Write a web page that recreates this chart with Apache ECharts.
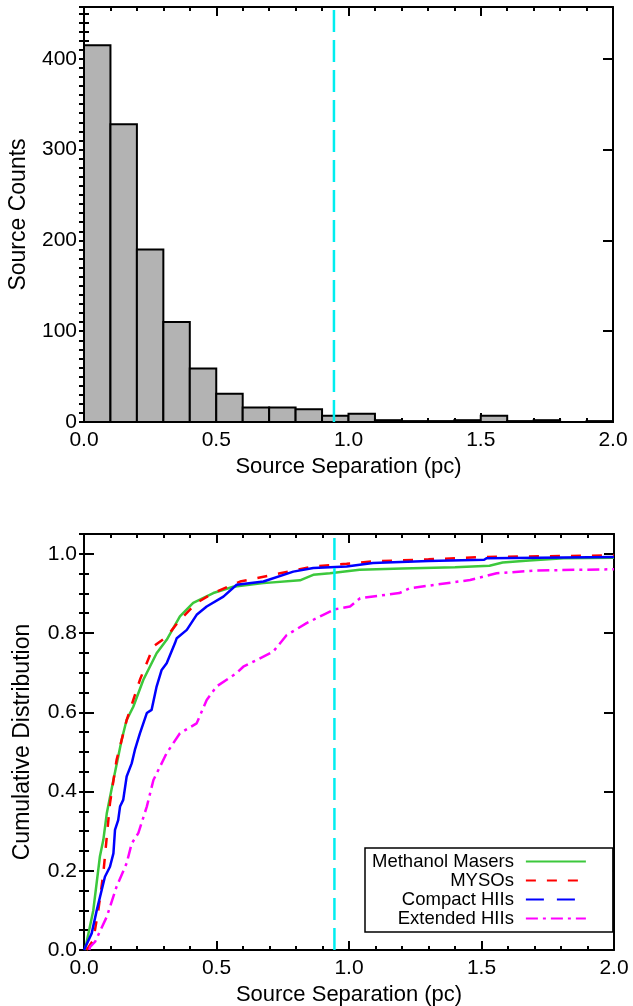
<!DOCTYPE html>
<html><head><meta charset="utf-8">
<script src="https://cdn.jsdelivr.net/npm/echarts@6/dist/echarts.min.js"></script>
<style>html,body{margin:0;padding:0;background:#fff}#c{width:633px;height:1006px}</style>
</head><body><div id="c"></div>
<script>
// ---- data ----
const binStarts = [0.0,0.1,0.2,0.3,0.4,0.5,0.6,0.7,0.8,0.9,1.0,1.1,1.2,1.3,1.4,1.5,1.6,1.7,1.8,1.9];
const binEnds   = [0.1,0.2,0.3,0.4,0.5,0.6,0.7,0.8,0.9,1.0,1.1,1.2,1.3,1.4,1.5,1.6,1.7,1.8,1.9,2.0];
const binCounts = [415,328,190,110,59,31,16,16,14,7,9,2,1,1,2,7,1,2,0,1];
const cutoffSep = 0.945;
const xTicks = [0.0, 0.5, 1.0, 1.5, 2.0];
const countTicks = [0, 100, 200, 300, 400];
const cdfTicks = [0.0, 0.2, 0.4, 0.6, 0.8, 1.0];
const countMax = 457;
const cdfMax = 1.05;

const methanolMasers = [[0.004,0],[0.01,0.02],[0.035,0.10],[0.06,0.236],[0.073,0.278],[0.086,0.345],[0.111,0.429],[0.142,0.530],[0.161,0.581],[0.186,0.614],[0.224,0.682],[0.274,0.749],[0.312,0.783],[0.362,0.842],[0.412,0.876],[0.488,0.901],[0.563,0.917],[0.677,0.926],[0.815,0.933],[0.865,0.947],[0.928,0.951],[1.04,0.960],[1.2,0.963],[1.40,0.966],[1.53,0.970],[1.58,0.978],[1.68,0.983],[1.81,0.989],[2.0,0.990]];
const mysos = [[0.01,0],[0.035,0.025],[0.054,0.10],[0.073,0.194],[0.092,0.328],[0.098,0.37],[0.123,0.48],[0.161,0.58],[0.186,0.631],[0.211,0.682],[0.262,0.766],[0.312,0.791],[0.362,0.833],[0.425,0.876],[0.488,0.901],[0.589,0.930],[0.74,0.951],[0.865,0.968],[0.991,0.975],[1.09,0.981],[1.3,0.986],[1.51,0.992],[1.75,0.994],[2.0,0.996]];
const compactHIIs = [[0.0,0],[0.004,0.005],[0.029,0.042],[0.048,0.10],[0.079,0.185],[0.098,0.21],[0.111,0.244],[0.117,0.303],[0.129,0.328],[0.136,0.362],[0.148,0.379],[0.161,0.438],[0.18,0.471],[0.192,0.505],[0.211,0.547],[0.237,0.598],[0.255,0.606],[0.274,0.665],[0.293,0.707],[0.312,0.724],[0.343,0.774],[0.35,0.787],[0.388,0.808],[0.425,0.846],[0.463,0.867],[0.526,0.892],[0.576,0.922],[0.677,0.930],[0.79,0.955],[0.865,0.964],[0.991,0.968],[1.09,0.977],[1.3,0.982],[1.51,0.985],[1.52,0.989],[2.0,0.992]];
const extendedHIIs = [[0.02,0],[0.023,0.008],[0.042,0.021],[0.086,0.084],[0.123,0.16],[0.161,0.219],[0.18,0.269],[0.205,0.295],[0.237,0.362],[0.262,0.429],[0.312,0.497],[0.362,0.547],[0.425,0.572],[0.463,0.631],[0.5,0.665],[0.576,0.699],[0.601,0.715],[0.714,0.753],[0.765,0.795],[0.84,0.825],[0.903,0.846],[0.947,0.860],[1.004,0.867],[1.042,0.888],[1.19,0.901],[1.23,0.913],[1.457,0.934],[1.557,0.951],[1.708,0.958],[2.0,0.961]];

// ---- styling ----
const FONT = '"Liberation Sans", Arial, Helvetica, sans-serif';
const BLACK = '#000';
const CYAN = '#00eef0';

function inList(list, v) { return list.some(t => Math.abs(t - v) < 1e-6); }

function xAxisDef(grid, pos, labels) {
  return {
    type: 'value', gridIndex: grid, position: pos, min: 0, max: 2, interval: 0.5,
    axisLine: { show: true, onZero: false, lineStyle: { color: BLACK, width: 2 } },
    axisTick: { show: true, inside: true, length: 9, lineStyle: { color: BLACK, width: 2 } },
    minorTick: { show: true, splitNumber: 5, length: 4, lineStyle: { color: BLACK, width: 2 } },
    splitLine: { show: false }, minorSplitLine: { show: false },
    axisLabel: { show: labels, margin: 8, color: BLACK, fontFamily: FONT, fontSize: 21,
      formatter: v => inList(xTicks, v) ? v.toFixed(1) : '' },
    name: labels ? 'Source Separation (pc)' : '', nameLocation: 'middle', nameGap: 34,
    nameTextStyle: { color: BLACK, fontFamily: FONT, fontSize: 22 }
  };
}
function yMainDef(grid, pos, max, interval, ticks, fmt, name, nameGap) {
  const labels = pos === 'left';
  return {
    type: 'value', gridIndex: grid, position: pos, min: 0, max: max, interval: interval,
    axisLine: { show: true, onZero: false, lineStyle: { color: BLACK, width: 2 } },
    axisTick: { show: true, inside: true, length: 10, lineStyle: { color: BLACK, width: 2 } },
    splitLine: { show: false },
    axisLabel: { show: labels, margin: 7, color: BLACK, fontFamily: FONT, fontSize: 21,
      formatter: v => inList(ticks, v) ? fmt(v) : '' },
    name: labels ? name : '', nameLocation: 'middle', nameGap: nameGap,
    nameTextStyle: { color: BLACK, fontFamily: FONT, fontSize: 23 }
  };
}
function yMinorDef(grid, pos, max, interval) {
  return {
    type: 'value', gridIndex: grid, position: pos, min: 0, max: max, interval: interval,
    axisLine: { show: false }, splitLine: { show: false }, axisLabel: { show: false },
    axisTick: { show: true, inside: true, length: 5, lineStyle: { color: BLACK, width: 2 } }
  };
}

const histData = binStarts.map((s, i) => [s, binEnds[i], binCounts[i]]);

const chart = echarts.init(document.getElementById('c'), null, { renderer: 'canvas' });
chart.setOption({
  animation: false,
  backgroundColor: '#fff',
  grid: [
    { left: 84, top: 7, width: 529, height: 415, containLabel: false, outerBoundsMode: 'none' },
    { left: 84, top: 534, width: 530, height: 416, containLabel: false, outerBoundsMode: 'none' }
  ],
  xAxis: [
    xAxisDef(0, 'bottom', true), xAxisDef(0, 'top', false),
    xAxisDef(1, 'bottom', true), xAxisDef(1, 'top', false)
  ],
  yAxis: [
    yMainDef(0, 'left', countMax, 100, countTicks, v => String(v), 'Source Counts', 54),
    yMinorDef(0, 'left', countMax, 10),
    yMainDef(0, 'right', countMax, 100, countTicks, v => String(v), '', 0),
    yMinorDef(0, 'right', countMax, 10),
    yMainDef(1, 'left', cdfMax, 0.2, cdfTicks, v => v.toFixed(1), 'Cumulative Distribution', 50),
    yMinorDef(1, 'left', cdfMax, 0.05),
    yMainDef(1, 'right', cdfMax, 0.2, cdfTicks, v => v.toFixed(1), '', 0),
    yMinorDef(1, 'right', cdfMax, 0.05)
  ],
  legend: {
    show: true, orient: 'vertical', align: 'right', left: 365, top: 848,
    padding: [4, 26, 4, 7], itemGap: 0, itemWidth: 60, itemHeight: 10,
    borderColor: BLACK, borderWidth: 1.5, backgroundColor: '#fff', selectedMode: false,
    textStyle: { fontFamily: FONT, fontSize: 18.5, color: BLACK, lineHeight: 18.7, padding: [0, 7, 0, 0] },
    itemStyle: { opacity: 0 },
    data: [
      { name: 'Methanol Masers' },
      { name: 'MYSOs' },
      { name: 'Compact HIIs', lineStyle: { type: [18, 13] } },
      { name: 'Extended HIIs' }
    ]
  },
  series: [
    {
      type: 'custom', xAxisIndex: 0, yAxisIndex: 0, data: histData, z: 2,
      renderItem: function (params, api) {
        const h = api.value(2);
        if (!h) return { type: 'group', children: [] };
        const p0 = api.coord([api.value(0), 0]);
        const p1 = api.coord([api.value(1), h]);
        return { type: 'rect',
          shape: { x: p0[0], y: p1[1], width: p1[0] - p0[0], height: p0[1] - p1[1] },
          style: { fill: '#b3b3b3', stroke: BLACK, lineWidth: 2 } };
      }
    },
    { type: 'line', xAxisIndex: 0, yAxisIndex: 0, data: [[cutoffSep, 0], [cutoffSep, countMax]],
      symbol: 'none', z: 5, silent: true, lineStyle: { color: CYAN, width: 2.5, type: [22, 8] } },
    { name: 'Methanol Masers', type: 'line', xAxisIndex: 2, yAxisIndex: 4, data: methanolMasers,
      symbol: 'none', z: 3, lineStyle: { color: '#3cc83c', width: 2.5, type: 'solid' }, itemStyle: { color: '#3cc83c' } },
    { name: 'MYSOs', type: 'line', xAxisIndex: 2, yAxisIndex: 4, data: mysos,
      symbol: 'none', z: 3, lineStyle: { color: '#ff0000', width: 2.5, type: [10, 11] }, itemStyle: { color: '#ff0000' } },
    { name: 'Compact HIIs', type: 'line', xAxisIndex: 2, yAxisIndex: 4, data: compactHIIs,
      symbol: 'none', z: 3, lineStyle: { color: '#0000ff', width: 2.5, type: 'solid' }, itemStyle: { color: '#0000ff' } },
    { name: 'Extended HIIs', type: 'line', xAxisIndex: 2, yAxisIndex: 4, data: extendedHIIs,
      symbol: 'none', z: 3, lineStyle: { color: '#ff00ff', width: 2.5, type: [12, 5, 3, 5] }, itemStyle: { color: '#ff00ff' } },
    { type: 'line', xAxisIndex: 2, yAxisIndex: 4, data: [[cutoffSep, 0], [cutoffSep, cdfMax]],
      symbol: 'none', z: 5, silent: true, lineStyle: { color: CYAN, width: 2.5, type: [22, 8] } }
  ]
});
</script>
</body></html>
